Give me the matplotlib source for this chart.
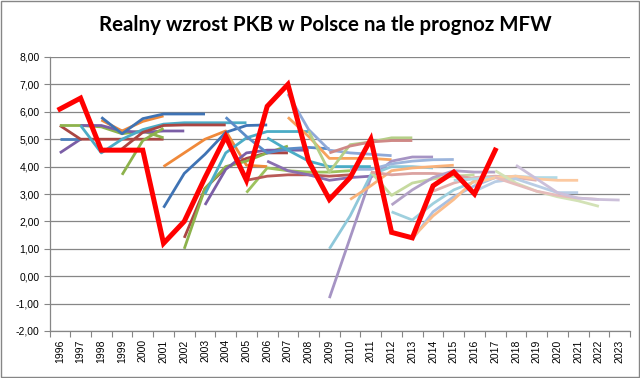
import matplotlib
matplotlib.use("Agg")
import matplotlib.pyplot as plt
from matplotlib.patches import Rectangle

years = list(range(1996, 2024))

# real GDP growth (red line)
actual = [6.1, 6.5, 4.6, 4.6, 4.6, 1.2, 2.0, 3.6, 5.1, 3.5, 6.2, 7.0, 4.2, 2.8,
          3.6, 5.0, 1.6, 1.4, 3.3, 3.8, 3.0, 4.6]

# IMF forecasts: first year, then values
p96 = [4.5, 5.0]
b96 = [5.0, 5.0]
r96 = [5.5, 5.0, 5.0, 5.0, 5.0, 5.0]
g96 = [5.5, 5.5, 5.45, 5.2, 5.3, 5.05]
p97 = [5.5, 5.5, 5.3, 5.25, 5.3, 5.3]
t97 = [5.5, 4.5, 5.0, 5.35, 5.55, 5.6, 5.6, 5.6, 5.6]
o98 = [5.7, 5.3, 5.65, 5.85]
b98 = [5.8, 5.2, 5.75, 5.92, 5.92, 5.92]
r99 = [4.65, 5.25, 5.5, 5.52, 5.52, 5.52]
g99 = [3.7, 4.95, 5.4]
o01 = [4.0, 4.5, 5.0, 5.3, 4.05, 4.0]
b01 = [2.5, 3.75, 4.45, 5.25, 5.5, 5.52]
r02 = [1.4, 3.2, 3.95, 4.3, 4.5, 4.5]
g02 = [1.0, 3.2, 4.0, 4.2, 4.5, 4.75]
p03 = [2.6, 3.9, 4.5, 4.6, 4.6, 4.6]
t03 = [3.0, 4.5, 5.05, 5.28, 5.28, 5.28]
b04 = [5.8, 5.1, 4.5, 4.65, 4.7, 4.65]
g05 = [3.05, 3.95, 3.85, 3.8, 3.8, 3.85]
r05 = [3.5, 3.65, 3.7, 3.7, 3.65, 3.7]
p06 = [4.2, 3.85, 3.7, 3.5, 3.6, 3.65]
t06 = [5.05, 4.6, 4.2, 4.0, 4.0, 4.0]
b07 = [6.65, 5.35, 4.6, 4.5, 4.45, 4.4]
o07 = [5.8, 5.1, 4.3, 4.3, 4.3, 4.25]
g08 = [5.3, 3.8, 4.8, 4.9, 5.05, 5.05]
r09 = [4.5, 4.75, 4.9, 4.95, 4.95]
p09 = [-0.8, 1.4, 3.6, 4.2, 4.35, 4.35]
t09 = [1.0, 2.2, 3.7, 4.0, 4.0, 3.95]
b10 = [3.9, 3.9, 4.1, 4.2, 4.25, 4.26]
o10 = [2.8, 3.3, 3.85, 3.95, 4.0, 4.05]
g11 = [3.8, 2.95, 3.4, 3.55, 3.65, 3.7]
r11 = [3.8, 3.7, 3.75, 3.75, 3.7, 3.55]
p12 = [2.6, 3.15, 3.6, 3.85, 3.8, 3.8]
t12 = [2.35, 2.05, 2.65, 3.15, 3.45, 3.6]
b13 = [1.35, 2.35, 2.9, 3.3, 3.6, 3.65]
o13 = [1.4, 2.2, 2.8, 3.5, 3.6, 3.6]
r14 = [3.1, 3.4, 3.6, 3.65, 3.6, 3.5]
t15 = [3.5, 3.55, 3.6, 3.65, 3.6, 3.6]
o16 = [3.4, 3.6, 3.65, 3.55, 3.5, 3.5]
b16 = [3.1, 3.45, 3.55, 3.3, 3.05, 3.05]
g17 = [3.85, 3.4, 3.1, 2.9, 2.75, 2.55]
r17 = [3.6, 3.35, 3.1, 2.95, 2.85, 2.8]
p18 = [4.05, 3.55, 3.05, 2.85, 2.8, 2.78]

forecasts = [
    (1996, p96, "#7b5ea6"), (1996, b96, "#4a7ebb"), (1996, r96, "#aa4643"),
    (1996, g96, "#8db24c"), (1997, p97, "#7b5ea6"), (1997, t97, "#4bacc6"),
    (1998, o98, "#f0893a"), (1998, b98, "#3f73b4"), (1999, r99, "#aa4643"),
    (1999, g99, "#8db24c"), (2001, o01, "#f0893a"), (2001, b01, "#3f73b4"),
    (2002, r02, "#aa4643"), (2002, g02, "#8db24c"), (2003, p03, "#7b5ea6"),
    (2003, t03, "#4bacc6"), (2004, b04, "#5b8cc8"), (2005, g05, "#9dc25e"),
    (2005, r05, "#b95a57"), (2006, p06, "#8a6fb0"), (2006, t06, "#4bacc6"),
    (2007, b07, "#8fa9d8"), (2007, o07, "#f7a35c"), (2008, g08, "#b5cf88"),
    (2009, r09, "#cf8986"), (2009, p09, "#a694c4"), (2009, t09, "#8fc8da"),
    (2010, b10, "#9cb5dc"), (2010, o10, "#f9b27a"), (2011, g11, "#c6da9f"),
    (2011, r11, "#dba3a1"), (2012, p12, "#b3a2c7"), (2012, t12, "#9fd0de"),
    (2013, b13, "#a8c0e2"), (2013, o13, "#fbbd8c"), (2014, r14, "#e2b1af"),
    (2015, t15, "#b2dae6"), (2016, o16, "#fcc9a0"), (2016, b16, "#b9cde5"),
    (2017, g17, "#d3e2b6"), (2017, r17, "#e6bcbb"), (2018, p18, "#ccc0da"),
]

fig = plt.figure(figsize=(6.4, 3.78), dpi=100)
ax = fig.add_axes([49.5 / 640, 1 - 331 / 378, 580.5 / 640, 274 / 378])

for start, vals, col in forecasts:
    i0 = years.index(start)
    ax.plot(range(i0, i0 + len(vals)), vals, color=col, lw=2.0,
            solid_capstyle="butt", zorder=2)

ax.plot(range(len(actual)), actual, color="#ff0000", lw=3.6,
        solid_joinstyle="miter", zorder=5)

ax.set_xlim(-0.5, len(years) - 0.5)
ax.set_ylim(-2, 8)
yt = list(range(-2, 9))
ax.set_yticks(yt)
ax.set_yticklabels([f"{v:.2f}".replace(".", ",") for v in yt],
                   fontsize=7.5, family="Liberation Sans")
ax.set_xticks(range(len(years)))
ax.set_xticklabels([str(y) for y in years], rotation=90, fontsize=7.5,
                   family="Liberation Sans")
ax.set_xticks([i - 0.5 for i in range(len(years) + 1)], minor=True)
ax.tick_params(axis="x", which="major", length=0, pad=6)
ax.tick_params(axis="x", which="minor", length=4, color="#868686", width=0.8)
ax.tick_params(axis="y", length=4, color="#868686", width=0.8, pad=3)

ax.grid(axis="y", color="#868686", lw=0.9)
ax.set_axisbelow(True)
for s in ("top", "right"):
    ax.spines[s].set_visible(False)
for s in ("left", "bottom"):
    ax.spines[s].set_color("#868686")
    ax.spines[s].set_linewidth(0.9)

fig.text(0.508, 0.935, "Realny wzrost PKB w Polsce na tle prognoz MFW",
         ha="center", va="center", fontsize=14.8, fontweight="bold",
         family="Lato")
fig.patches.append(Rectangle((0.002, 0.003), 0.996, 0.994,
                             transform=fig.transFigure, fill=False,
                             edgecolor="#868686", lw=1.0))

fig.savefig("out.png", dpi=100)
